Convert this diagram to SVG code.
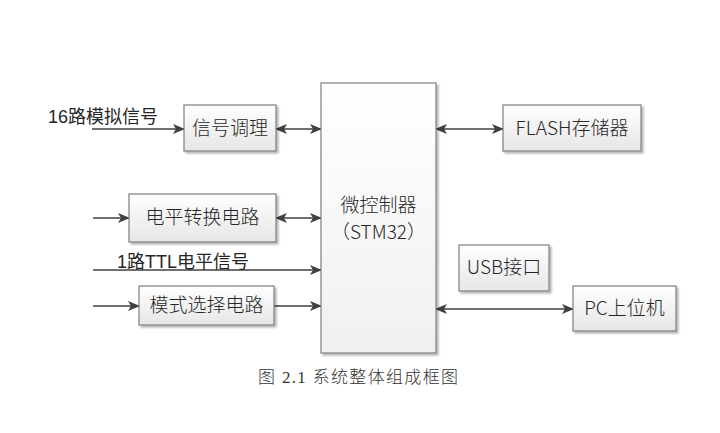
<svg xmlns="http://www.w3.org/2000/svg" width="720" height="433" viewBox="0 0 720 433">
<defs>
<linearGradient id="g" x1="0" y1="0" x2="0" y2="1">
<stop offset="0" stop-color="#ffffff"/>
<stop offset="1" stop-color="#e6e6e6"/>
</linearGradient>
<linearGradient id="gm" x1="0" y1="0" x2="0" y2="1">
<stop offset="0" stop-color="#ffffff"/>
<stop offset="1" stop-color="#f0f0f0"/>
</linearGradient>
<filter id="sh" x="-10%" y="-10%" width="130%" height="130%">
<feGaussianBlur in="SourceAlpha" stdDeviation="1"/>
<feOffset dx="2" dy="2"/>
<feComponentTransfer><feFuncA type="linear" slope="0.3"/></feComponentTransfer>
<feMerge><feMergeNode/><feMergeNode in="SourceGraphic"/></feMerge>
</filter>
<marker id="ae" markerWidth="12" markerHeight="10" refX="11" refY="5" orient="auto" markerUnits="userSpaceOnUse">
<path d="M0,0 L12,5 L0,10 L3,5 Z" fill="#404040"/>
</marker>
<marker id="as" markerWidth="12" markerHeight="10" refX="1" refY="5" orient="auto" markerUnits="userSpaceOnUse">
<path d="M12,0 L0,5 L12,10 L9,5 Z" fill="#404040"/>
</marker>
</defs>
<style>
.box{fill:url(#g);stroke:#7f7f7f;stroke-width:1.2;filter:url(#sh)}
.main{fill:url(#gm);stroke:#7f7f7f;stroke-width:1.2;filter:url(#sh)}
.t{font-family:"Noto Sans CJK SC","Liberation Sans",sans-serif;font-size:19px;fill:#262626;font-weight:300}
.l{font-family:"Liberation Sans","Noto Sans CJK SC",sans-serif;font-size:18px;fill:#262626}
.c{stroke:#404040;stroke-width:1.5;fill:none}
.cap{font-family:"Liberation Serif","Noto Sans CJK SC",serif;font-size:17px;fill:#333;font-weight:300}
</style>
<rect width="720" height="433" fill="#ffffff"/>
<g id="connectors">
<line class="c" x1="92" y1="129" x2="184" y2="129" marker-end="url(#ae)"/>
<line class="c" x1="276" y1="129" x2="321" y2="129" marker-start="url(#as)" marker-end="url(#ae)"/>
<line class="c" x1="93" y1="218" x2="129" y2="218" marker-end="url(#ae)"/>
<line class="c" x1="276" y1="218" x2="321" y2="218" marker-start="url(#as)" marker-end="url(#ae)"/>
<line class="c" x1="93" y1="270" x2="321" y2="270" marker-end="url(#ae)"/>
<line class="c" x1="93" y1="306" x2="139" y2="306" marker-end="url(#ae)"/>
<line class="c" x1="274" y1="306" x2="321" y2="306" marker-end="url(#ae)"/>
<line class="c" x1="436" y1="129" x2="503" y2="129" marker-start="url(#as)" marker-end="url(#ae)"/>
<line class="c" x1="436" y1="309" x2="573" y2="309" marker-start="url(#as)" marker-end="url(#ae)"/>
<text class="l" x="48" y="123">16路模拟信号</text>
<text class="l" x="117" y="268">1路TTL电平信号</text>
</g>
<g id="mcu">
<rect class="main" x="321" y="83" width="115" height="270"/>
<text class="t" x="378.5" y="212" text-anchor="middle">微控制器</text>
<text class="t" x="378.5" y="239" text-anchor="middle">（STM32）</text>
</g>
<g id="signal">
<rect class="box" x="184" y="105" width="92" height="46"/>
<text class="t" x="230" y="135" text-anchor="middle">信号调理</text>
</g>
<g id="level">
<rect class="box" x="129" y="194" width="147" height="48"/>
<text class="t" x="202.5" y="224" text-anchor="middle">电平转换电路</text>
</g>
<g id="mode">
<rect class="box" x="139" y="286" width="135" height="39"/>
<text class="t" x="206.5" y="312" text-anchor="middle">模式选择电路</text>
</g>
<g id="flash">
<rect class="box" x="503" y="105" width="138" height="46"/>
<text class="t" x="572" y="135" text-anchor="middle">FLASH存储器</text>
</g>
<g id="usb">
<rect class="box" x="459" y="245" width="90" height="46"/>
<text class="t" x="504" y="274" text-anchor="middle">USB接口</text>
</g>
<g id="pc">
<rect class="box" x="573" y="286" width="103" height="45"/>
<text class="t" x="624.5" y="315" text-anchor="middle">PC上位机</text>
</g>
<text class="cap" x="258" y="383" textLength="200" lengthAdjust="spacing">图 2.1 系统整体组成框图</text>
</svg>
